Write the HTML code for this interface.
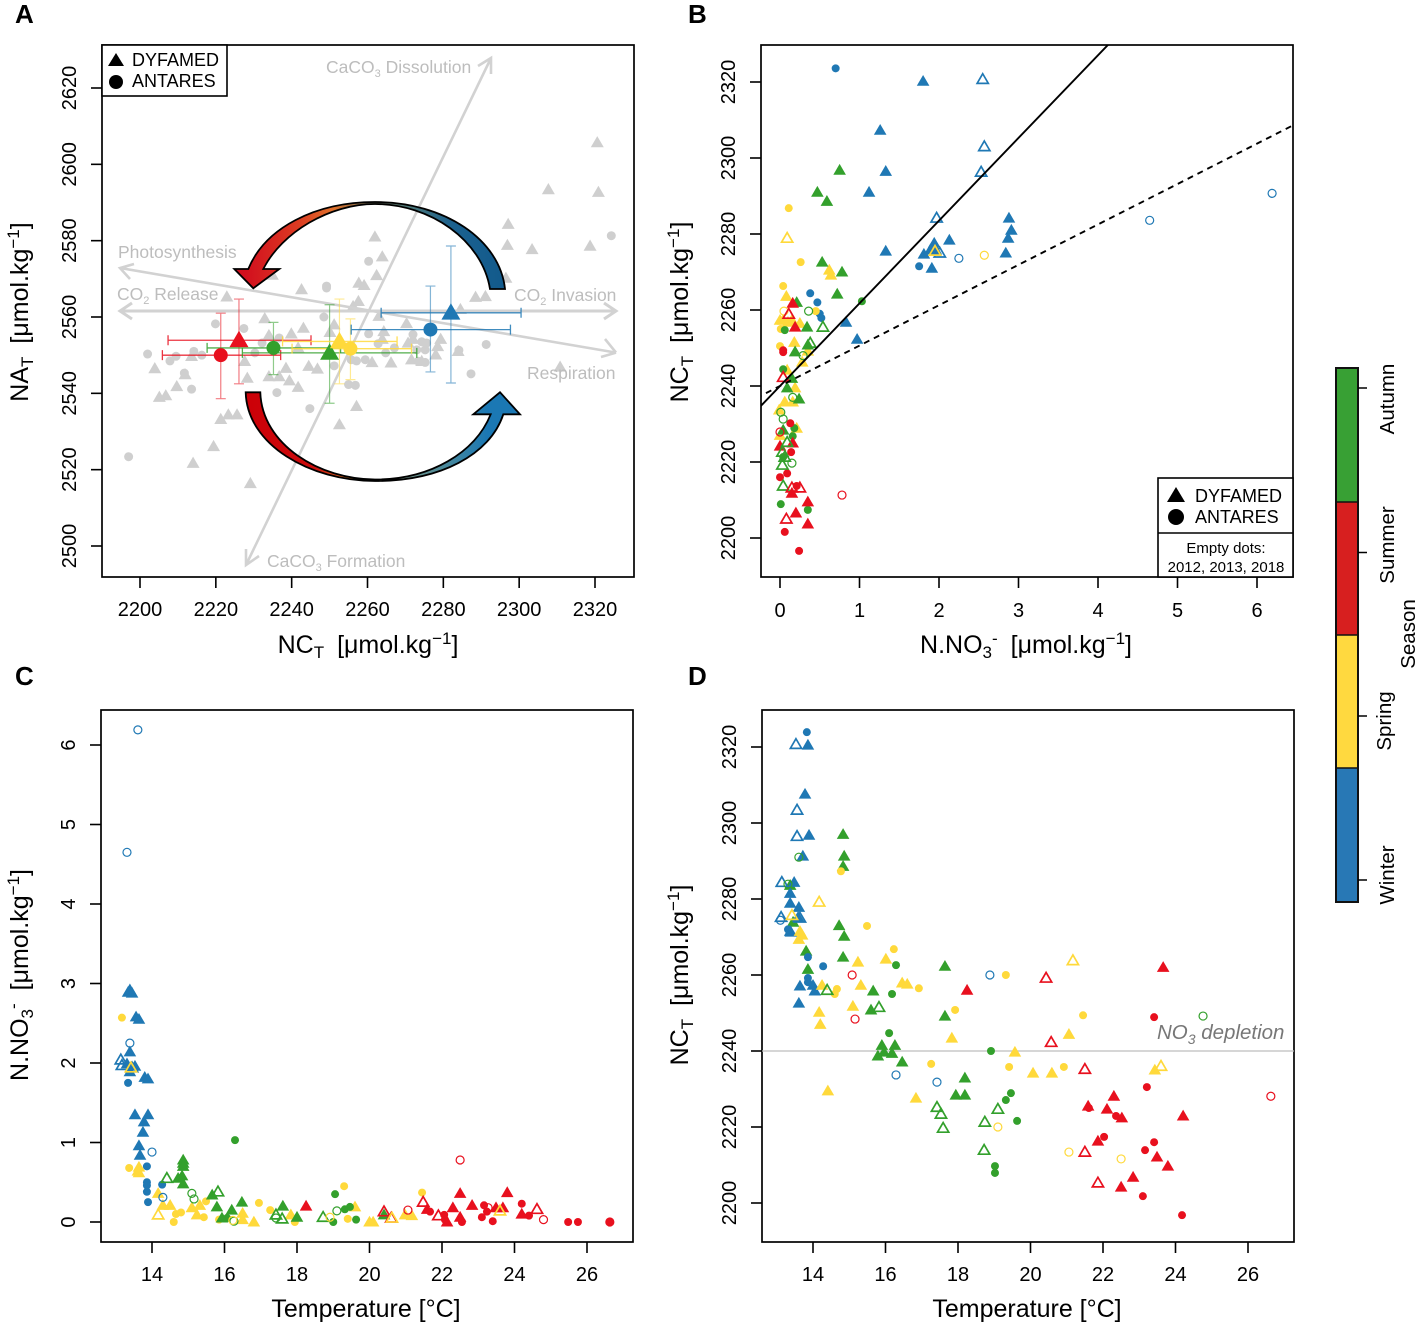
<!DOCTYPE html>
<html lang="en">
<head>
<meta charset="utf-8">
<title>Seasonal carbonate chemistry panels</title>
<style>
html,body{margin:0;padding:0;background:#fff;}
svg{display:block;font-family:"Liberation Sans",Arial,sans-serif;}
</style>
</head>
<body>
<svg id="fig" xmlns="http://www.w3.org/2000/svg" width="1417" height="1324" viewBox="0 0 1417 1324">
<defs>
<clipPath id="clipA"><rect x="102" y="45" width="532" height="532"/></clipPath>
<clipPath id="clipB"><rect x="761" y="45" width="532" height="532"/></clipPath>
<clipPath id="clipC"><rect x="101" y="710" width="532" height="532"/></clipPath>
<clipPath id="clipD"><rect x="762" y="710" width="532" height="532"/></clipPath>
<linearGradient id="gradUpper" gradientUnits="userSpaceOnUse" x1="245" y1="0" x2="505" y2="0">
<stop offset="0" stop-color="#d20f1e"/><stop offset="0.2" stop-color="#dc3a22"/><stop offset="0.34" stop-color="#e0702a"/><stop offset="0.48" stop-color="#6a6a50"/><stop offset="0.62" stop-color="#4f7a78"/><stop offset="0.8" stop-color="#1b618f"/><stop offset="1" stop-color="#125a8c"/>
</linearGradient>
<linearGradient id="gradLower" gradientUnits="userSpaceOnUse" x1="245" y1="0" x2="520" y2="0">
<stop offset="0" stop-color="#cc0008"/><stop offset="0.25" stop-color="#cc0c0c"/><stop offset="0.38" stop-color="#d9701f"/><stop offset="0.55" stop-color="#7d9a88"/><stop offset="0.72" stop-color="#4c8a9a"/><stop offset="0.88" stop-color="#1b78b4"/><stop offset="1" stop-color="#1b78b4"/>
</linearGradient>
</defs>
<rect x="0" y="0" width="1417" height="1324" fill="#fff"/>

<g id="layerA"></g>
<g id="layerB"></g>
<g id="layerC"></g>
<g id="layerD"></g>

<g font-size="26" font-weight="bold" fill="#000">
<text x="15" y="23">A</text>
<text x="688" y="23">B</text>
<text x="15" y="685">C</text>
<text x="688" y="685">D</text>
</g>

<!-- axis titles -->
<g font-size="25" fill="#000" text-anchor="middle">
<text x="368" y="653">NC<tspan font-size="17" dy="5">T</tspan><tspan dy="-5" dx="13">[μmol.kg</tspan><tspan font-size="17" dy="-9">−1</tspan><tspan dy="9">]</tspan></text>
<text transform="translate(28,312) rotate(-90)">NA<tspan font-size="17" dy="5">T</tspan><tspan dy="-5" dx="13">[μmol.kg</tspan><tspan font-size="17" dy="-9">−1</tspan><tspan dy="9">]</tspan></text>
<text x="1026" y="653">N.NO<tspan font-size="17" dy="5">3</tspan><tspan font-size="17" dy="-14">-</tspan><tspan dy="9" dx="13">[μmol.kg</tspan><tspan font-size="17" dy="-9">−1</tspan><tspan dy="9">]</tspan></text>
<text transform="translate(688,312) rotate(-90)">NC<tspan font-size="17" dy="5">T</tspan><tspan dy="-5" dx="13">[μmol.kg</tspan><tspan font-size="17" dy="-9">−1</tspan><tspan dy="9">]</tspan></text>
<text x="366" y="1317">Temperature [°C]</text>
<text transform="translate(28,975) rotate(-90)">N.NO<tspan font-size="17" dy="5">3</tspan><tspan font-size="17" dy="-14">-</tspan><tspan dy="9" dx="13">[μmol.kg</tspan><tspan font-size="17" dy="-9">−1</tspan><tspan dy="9">]</tspan></text>
<text x="1027" y="1317">Temperature [°C]</text>
<text transform="translate(688,975) rotate(-90)">NC<tspan font-size="17" dy="5">T</tspan><tspan dy="-5" dx="13">[μmol.kg</tspan><tspan font-size="17" dy="-9">−1</tspan><tspan dy="9">]</tspan></text>
</g>

<!-- Panel A process annotations -->
<g fill="none" stroke="#d2d2d2" stroke-width="3">
<path d="M120,311 L616,311 M132,303 L120,311 L132,319 M604,303 L616,311 L604,319"/>
<path d="M120,268 L616,352.6 M134,264 L120,268 L130,279 M605,339 L616,352.6 M616,352.6 L601,357" stroke-width="2.6"/>
<path d="M246,565 L491,58 M246,549 L246,565 L259,556 M478,66 L491,58 L491,74" stroke-width="2.6"/>
</g>
<g fill="#bdbdbd" font-size="17.5">
<text x="118" y="258">Photosynthesis</text>
<text x="326" y="73">CaCO<tspan font-size="11" dy="4">3</tspan><tspan dy="-4"> Dissolution</tspan></text>
<text x="117" y="300">CO<tspan font-size="11" dy="4">2</tspan><tspan dy="-4"> Release</tspan></text>
<text x="514" y="301">CO<tspan font-size="11" dy="4">2</tspan><tspan dy="-4"> Invasion</tspan></text>
<text x="527" y="379">Respiration</text>
<text x="267" y="567">CaCO<tspan font-size="11" dy="4">3</tspan><tspan dy="-4"> Formation</tspan></text>
</g>
<g id="layerAData"></g>

<path d="M505,289 C500,240 445,202 375,202 C315,202 265,228 248.3,269 L234.3,269 L253.3,288.3 L279.3,269 L263.3,269 C282,232 330,204 375,204 C430,204 482,240 490,289 Z" fill="url(#gradUpper)" stroke="#000" stroke-width="1.8" stroke-linejoin="miter"/>
<path d="M245.7,392.3 C247,445 310,481 375,481 C440,481 490,455 503.3,414.3 L520,414.3 L500,392.3 L473.3,414.3 L490.7,414.3 C475,453 430,479.5 375,479.5 C320,479.5 262,445 260.3,392.3 Z" fill="url(#gradLower)" stroke="#000" stroke-width="1.8" stroke-linejoin="miter"/>

<!-- Legend A -->
<g>
<rect x="102" y="45" width="125" height="51" fill="#fff" stroke="#000" stroke-width="1.6"/>
<path d="M116,53 L124,66 L108,66 Z" fill="#000"/>
<circle cx="116" cy="82" r="7" fill="#000"/>
<text x="132" y="66" font-size="18">DYFAMED</text>
<text x="132" y="87" font-size="18">ANTARES</text>
</g>

<!-- Legend B -->
<g>
<rect x="1158" y="478" width="135" height="99" fill="#fff" stroke="#000" stroke-width="1.6"/>
<line x1="1158" y1="533" x2="1293" y2="533" stroke="#000" stroke-width="1.6"/>
<path d="M1176,487 L1185,502 L1167,502 Z" fill="#000"/>
<circle cx="1176" cy="517" r="8" fill="#000"/>
<text x="1195" y="502" font-size="18">DYFAMED</text>
<text x="1195" y="523" font-size="18">ANTARES</text>
<text x="1226" y="553" font-size="15" text-anchor="middle">Empty dots:</text>
<text x="1226" y="572" font-size="15" text-anchor="middle">2012, 2013, 2018</text>
</g>

<!-- NO3 depletion -->
<text x="1157" y="1039" font-size="20.5" font-style="italic" fill="#777">NO<tspan font-size="14" dy="5">3</tspan><tspan dy="-5"> depletion</tspan></text>

<!-- Season colour bar -->
<g id="colorbar">
<rect x="1336" y="768" width="22" height="134" fill="#2878b5"/>
<rect x="1336" y="635" width="22" height="133" fill="#ffd93f"/>
<rect x="1336" y="502" width="22" height="133" fill="#d71f1f"/>
<rect x="1336" y="368" width="22" height="134" fill="#38a034"/>
<path d="M1336,502 H1358 M1336,635 H1358 M1336,768 H1358" stroke="#111" stroke-width="1.5" fill="none"/>
<rect x="1336" y="368" width="22" height="534" fill="none" stroke="#111" stroke-width="2"/>
<path d="M1358,388 H1367 M1358,552.5 H1367 M1358,716 H1367 M1358,880 H1367" stroke="#000" stroke-width="1.4" fill="none"/>
<g font-size="20.5" text-anchor="middle">
<text transform="translate(1394,399) rotate(-90)">Autumn</text>
<text transform="translate(1394,545) rotate(-90)">Summer</text>
<text transform="translate(1391,721) rotate(-90)">Spring</text>
<text transform="translate(1394,875) rotate(-90)">Winter</text>
<text transform="translate(1415,634) rotate(-90)">Season</text>
</g>
</g>
</svg>

<script>
// ---------- Tick labels ----------
const aXTicks = [2200, 2220, 2240, 2260, 2280, 2300, 2320];
const aYTicks = [2500, 2520, 2540, 2560, 2580, 2600, 2620];
const bXTicks = [0, 1, 2, 3, 4, 5, 6];
const bYTicks = [2200, 2220, 2240, 2260, 2280, 2300, 2320];
const cXTicks = [14, 16, 18, 20, 22, 24, 26];
const cYTicks = [0, 1, 2, 3, 4, 5, 6];
const dXTicks = [14, 16, 18, 20, 22, 24, 26];
const dYTicks = [2200, 2220, 2240, 2260, 2280, 2300, 2320];

const winterColor = '#1f78b4', springColor = '#ffd93b', summerColor = '#e8101e', autumnColor = '#33a02c';

// ---------- Panel A: background samples [NCT, NAT] ----------
const aGreyTriangles = [[2320.6,2605.7],[2307.7,2593.4],[2320.9,2592.7],[2297.1,2584.3],[2296.9,2578.8],[2303.4,2577.7],[2318.7,2578.6],[2261.95,2581],[2263.9,2575.8],[2296.5,2570.2],[2262.4,2570.9],[2257.7,2568.9],[2259.1,2568.3],[2234.9,2571],[2242.6,2567.2],[2288.5,2565.2],[2291.1,2565.4],[2222.9,2565.3],[2257.6,2564.1],[2256.2,2562.8],[2284.5,2562],[2263,2560.2],[2270.3,2558.3],[2232.9,2559.6],[2243.1,2557.1],[2264.3,2556.2],[2251.2,2558],[2239.9,2555.6],[2234,2555.2],[2250.1,2556],[2272,2554.2],[2279.3,2554.2],[2263.9,2554.2],[2270.7,2553.2],[2278.5,2552.3],[2283.9,2551],[2278,2550.1],[2213.6,2549.7],[2241.7,2551.9],[2271.6,2548.8],[2261.2,2548.1],[2266.2,2548],[2227.6,2548.4],[2238.5,2546.6],[2244.5,2547.1],[2246.8,2546.4],[2234,2544.4],[2236.7,2544.4],[2228.3,2544],[2239.4,2543.3],[2241.7,2541.6],[2211.9,2544.9],[2203.9,2546.5],[2209.7,2541.8],[2206.8,2539.4],[2205.1,2539],[2310.8,2546.9],[2257.1,2536.6],[2252.6,2531.8],[2225.6,2534.4],[2223.3,2534.4],[2221.3,2533.2],[2219.4,2526.1],[2214,2521.7],[2229.1,2516.4],[2274.3,2548.4]];
const aGreyCircles = [[2324.3,2581.3],[2260.3,2574.6],[2249.2,2568.1],[2249.2,2567.6],[2248.5,2560],[2219.9,2558.2],[2227.4,2557],[2236.7,2554.5],[2202,2550.3],[2207.9,2548.5],[2209.5,2549.7],[2214.2,2551],[2216.3,2550],[2211.7,2545.3],[2213.6,2541.1],[2236.1,2540.2],[2244.8,2536],[2197,2523.4],[2255,2542.3],[2256.8,2542.1],[2260.3,2555.6],[2262.8,2553],[2264.8,2550.6],[2267.1,2551.9],[2259.4,2548.8],[2257.1,2548.5],[2255.7,2548.8],[2251.2,2547.2],[2272,2555.4],[2274.3,2553.5],[2275.6,2553.2],[2275.2,2551.4],[2273,2551.4],[2273.4,2548.4],[2275.2,2548.1],[2284.1,2551.3],[2291.3,2552.8],[2287.3,2545.1],[2230.3,2550.6],[2232.2,2553.2]];

// Panel A: seasonal means and error bars
const aMeanSeason = ['summer','summer','autumn','autumn','spring','spring','winter','winter'];
const aMeanMarker = ['tri','circ','circ','tri','tri','circ','circ','tri'];
const aMeanX =     [2226.1,2221.3,2235.2,2250,2252.6,2255.5,2276.6,2282];
const aMeanY =     [2553.9,2550,2551.9,2550.6,2553.6,2551.7,2556.7,2561.1];
const aMeanXLow =  [2207.4,2205.9,2217.7,2227,2237.6,2240.1,2255.7,2263.6];
const aMeanXHigh = [2245.1,2237.1,2252.9,2273,2267.8,2271.6,2297.7,2300.5];
const aMeanYLow =  [2542.5,2538.6,2544.9,2537.4,2542.5,2543.6,2545.6,2542.7];
const aMeanYHigh = [2564.7,2561,2558.6,2563.2,2564.7,2559.5,2568.1,2578.6];

// ---------- Panel B: [N.NO3, NCT] ----------
const bWinterTri = [[1.8,2320.2],[1.26,2307.3],[1.33,2296.5],[1.12,2291],[1.33,2275.5],[1.94,2277.6],[2.13,2278.4],[1.81,2274.7],[1.91,2271],[2.88,2284.2],[2.91,2281],[2.87,2278.9],[2.84,2275],[0.83,2256.8],[0.97,2252.3],[1.89,2275.8],[1.96,2275.8]];
const bWinterOpenTri = [[2.55,2320.7],[2.57,2303],[2.53,2296.3],[1.97,2284.2],[2.01,2275]];
const bWinterCirc = [[0.7,2323.6],[1.75,2271.5],[0.38,2264.4],[0.47,2262],[0.5,2259],[0.52,2257.9]];
const bWinterOpenCirc = [[2.25,2273.6],[4.65,2283.6],[6.19,2290.7]];
const bSpringTri = [[0.08,2263.6],[0,2257.3],[0.15,2257.3],[0.25,2256.5],[0.18,2251.5],[0.35,2249.2],[0.28,2246.3],[0.09,2244.2],[0.19,2239.5],[0.06,2235.8],[0.16,2235.8],[-0.01,2233.7],[0.21,2228.9],[0,2227],[0.62,2270.5],[0.64,2269.2],[0.04,2257.3],[0.1,2256.8]];
const bSpringOpenTri = [[1.95,2275.5],[0.09,2278.9]];
const bSpringCirc = [[0.11,2286.8],[0.26,2272.6],[0.04,2266.3],[0.45,2259.7],[0.01,2255],[0,2250.5]];
const bSpringOpenCirc = [[2.57,2274.4],[0.05,2259.7]];
const bAutumnTri = [[0.47,2291],[0.59,2288.6],[0.75,2296.8],[0.53,2272.6],[0.78,2270],[0.72,2264.2],[0.21,2262],[0.34,2255.5],[0.19,2249],[0.35,2250.8],[0.15,2242],[0.09,2239.5],[0.24,2236.6],[0.04,2228.4]];
const bAutumnOpenTri = [[0.54,2255.5],[0.38,2251.3],[0.09,2225.2],[0.03,2222.6],[0.06,2221.3],[0.03,2219.2],[0.04,2213.7]];
const bAutumnCirc = [[1.03,2262.3],[0.06,2254.7],[0.04,2244.4],[0.18,2228.9],[0.16,2226.8],[0.04,2221.3],[0.35,2207.4],[0.01,2208.9]];
const bAutumnOpenCirc = [[0.36,2259.7],[0.29,2248],[0.16,2237],[0.01,2233.1],[0.04,2231.3],[0.15,2219.7]];
const bSummerTri = [[0.16,2261.8],[0.19,2255.5],[0,2224.2],[0.16,2225],[0.15,2211.8],[0.35,2209.5],[0.2,2206.6],[0.35,2203.7]];
const bSummerOpenTri = [[0.11,2258.9],[0.04,2242.3],[0.25,2213.2],[0.15,2213.2],[0.08,2205]];
const bSummerCirc = [[0.04,2248.9],[0.13,2230.2],[0.14,2222.6],[0.09,2217],[0,2216],[0.21,2213.7],[0.06,2201.6],[0.24,2196.6],[0.04,2249.4]];
const bSummerOpenCirc = [[0.78,2211.3],[0,2227.9]];
const bLineIntercept = [2240, 2240];
const bLineSlope = [21.76, 10.63];
const bLineDash = ['', '6 5'];

// ---------- Panel C: [Temperature, N.NO3] ----------
const cWinterTri = [[13.34,2.89],[13.45,2.88],[13.39,2.92],[13.56,2.58],[13.64,2.55],[13.39,2.14],[13.31,1.99],[13.53,1.96],[13.39,1.89],[13.8,1.82],[13.89,1.8],[13.53,1.35],[13.89,1.35],[13.78,1.26],[13.75,1.13],[13.64,0.96],[13.67,0.84]];
const cWinterOpenTri = [[13.14,2.04],[13.17,1.97],[13.45,1.94]];
const cWinterCirc = [[13.34,1.75],[13.86,0.7],[13.86,0.5],[13.86,0.46],[13.86,0.38],[13.89,0.25],[14.28,0.47]];
const cWinterOpenCirc = [[13.61,6.19],[13.31,4.65],[13.39,2.25],[14,0.88],[14.3,0.31]];
const cSpringTri = [[13.64,0.69],[13.61,0.64],[13.64,0.62],[14.17,0.36],[14.3,0.21],[14.5,0.21],[15.1,0.18],[15.32,0.21],[15.24,0.09],[16.5,0.11],[16.5,0.03],[16.81,0],[17.83,0.09],[19.6,0.19],[20,0],[20.1,0],[20.98,0.09],[21.17,0.08]];
const cSpringOpenTri = [[14.17,0.09],[13.42,1.94],[20.62,0.05],[23.6,0.14]];
const cSpringCirc = [[13.17,2.57],[13.37,0.68],[15.49,0.26],[16.95,0.24],[17.26,0.15],[19.3,0.45],[19.4,0.04],[14.6,0],[14.66,0.1],[14.8,0.12],[15.43,0.06],[15.85,0.03],[17.94,0],[21.45,0.37]];
const cSpringOpenCirc = [[18.91,0.06],[16.23,0.02]];
const cAutumnTri = [[14.86,0.78],[14.86,0.74],[14.86,0.7],[14.72,0.55],[14.83,0.58],[14.86,0.48],[15.66,0.34],[15.79,0.19],[16.48,0.25],[16.2,0.15],[15.93,0.05],[17.61,0.2],[18,0.06],[20.4,0.09]];
const cAutumnOpenTri = [[14.41,0.55],[15.82,0.38],[17.42,0.09],[17.59,0.04],[18.72,0.06]];
const cAutumnCirc = [[16.29,1.03],[19.05,0.35],[19.46,0.19],[19.32,0.16],[19.63,0.03],[19,0],[16.07,0.05]];
const cAutumnOpenCirc = [[15.1,0.36],[15.16,0.29],[16.26,0.01],[17.42,0.05],[19.1,0.14]];
const cSummerTri = [[18.25,0.2],[21.59,0.16],[22.3,0.18],[22.5,0.36],[22.14,0],[22.83,0.21],[22.5,0.06],[23.49,0.18],[23.68,0.18],[23.8,0.37],[24.2,0.1]];
const cSummerOpenTri = [[20.4,0.13],[20.6,0.05],[21.48,0.25],[21.9,0.08],[24.62,0.16]];
const cSummerCirc = [[21.67,0.13],[22.06,0.09],[22.08,0.03],[22.55,0],[23.16,0.21],[23.24,0.13],[23.1,0.06],[23.4,0.01],[24.2,0.23],[24.4,0.08],[25.48,0],[25.75,0],[26.63,0]];
const cSummerOpenCirc = [[22.5,0.78],[21.06,0.15],[23.27,0.18],[24.8,0.03],[26.63,0]];

// ---------- Panel D: [Temperature, NCT] ----------
const dWinterTri = [[13.86,2320.5],[13.78,2307.6],[13.89,2296.8],[13.72,2291.3],[13.48,2284.4],[13.37,2281.5],[13.37,2278.9],[13.61,2277.8],[13.59,2275.2],[13.37,2271.5],[13.64,2257.1],[14,2257.3],[14.05,2255.8],[13.61,2252.6],[13.39,2271.3]];
const dWinterOpenTri = [[13.53,2320.7],[13.56,2303.4],[13.56,2296.5],[13.14,2284.4],[13.12,2275.2],[13.64,2275]];
const dWinterCirc = [[13.83,2323.9],[13.31,2272],[13.86,2264.7],[14.28,2262.3],[13.86,2259.2],[13.86,2258.1]];
const dWinterOpenCirc = [[18.88,2260],[13.1,2274.4],[16.29,2233.7],[17.42,2231.8]];
const dSpringTri = [[13.64,2271.5],[13.7,2270.5],[13.61,2269.4],[15.24,2263.4],[16.01,2264.2],[14.25,2257.3],[15.32,2257.3],[16.46,2257.9],[16.6,2257.6],[15.1,2251.8],[14.17,2250.2],[14.2,2247],[14.41,2229.5],[17.83,2243.4],[16.84,2227.6],[19.57,2239.7],[20.07,2234.2],[20.59,2234.2],[21.06,2244.4],[23.43,2235]];
const dSpringOpenTri = [[14.17,2279.2],[13.42,2275.7],[23.6,2236],[21.17,2263.8]];
const dSpringCirc = [[14.77,2287.3],[15.49,2272.9],[16.23,2266.8],[19.32,2260],[14.66,2256.3],[14.6,2255],[16.92,2256.5],[17.92,2250.8],[17.26,2236.6],[21.45,2249.4],[19.41,2235.8],[20.92,2235.8]];
const dSpringOpenCirc = [[21.06,2213.4],[22.5,2211.6],[19.1,2220]];
const dAutumnTri = [[14.83,2297],[14.86,2291.3],[14.83,2288.6],[13.37,2283.6],[13.45,2273.9],[14.72,2273],[14.86,2270.2],[13.81,2266.3],[14.83,2264.7],[13.86,2261.5],[17.64,2262.3],[15.66,2255.8],[15.6,2250.8],[17.64,2249.2],[15.9,2241.5],[16.26,2241.5],[15.79,2238.7],[15.96,2239.7],[16.18,2239.4],[16.46,2237.1],[18.19,2232.9],[17.94,2228.4],[18.19,2228.4]];
const dAutumnOpenTri = [[14.39,2256],[15.82,2251.5],[17.42,2225.2],[17.53,2223.4],[17.59,2219.7],[18.74,2221.3],[19.1,2224.7],[18.72,2213.9]];
const dAutumnCirc = [[16.29,2262.6],[16.18,2255],[18.91,2240],[16.1,2244.7],[19.46,2228.9],[19.32,2227.1],[19.63,2221.6],[19.02,2209.7],[19.02,2207.9]];
const dAutumnOpenCirc = [[13.61,2291],[13.31,2283.9],[24.76,2249.2]];
const dSummerTri = [[18.25,2256],[23.66,2262],[22.3,2228.1],[21.59,2225.5],[22.11,2224.7],[22.52,2222.4],[24.21,2222.9],[21.86,2216.3],[23.49,2212.1],[23.79,2209.7],[22.83,2206.8],[22.5,2204.2]];
const dSummerOpenTri = [[20.43,2259.2],[20.57,2242.3],[21.5,2235.2],[21.5,2213.4],[21.86,2205.3]];
const dSummerCirc = [[23.41,2248.9],[23.21,2230.5],[21.61,2225],[22.36,2222.9],[22.03,2217.4],[23.41,2216],[23.16,2213.9],[23.1,2201.8],[24.18,2196.8]];
const dSummerOpenCirc = [[15.08,2260],[15.16,2248.4],[26.63,2228.1]];
const dReferenceLevel = [2240];

// ---------- Helpers ----------
const NS = 'http://www.w3.org/2000/svg';
function scale(d0, d1, r0, r1) {
  return function (v) { return r0 + (v - d0) * (r1 - r0) / (d1 - d0); };
}
function make(tag, parent) {
  const el = document.createElementNS(NS, tag);
  parent.appendChild(el);
  return el;
}
function drawAxes(parent, box, xs, ys, xTicks, yTicks, xLabelY, yLabelX) {
  const frame = make('rect', parent);
  
  
  frame.setAttribute('x', box.x);
  frame.setAttribute('y', box.y);
  frame.setAttribute('width', box.w);
  frame.setAttribute('height', box.h);
  frame.setAttribute('fill', 'none');
  frame.setAttribute('stroke', '#000');
  frame.setAttribute('stroke-width', '1.7');
  const bottom = box.y + box.h;
  xTicks.forEach(function (t) {
    const tick = make('line', parent);
    
    
    tick.setAttribute('x1', xs(t));
    tick.setAttribute('x2', xs(t));
    tick.setAttribute('y1', bottom);
    tick.setAttribute('y2', bottom + 11);
    tick.setAttribute('stroke', '#000');
    tick.setAttribute('stroke-width', '1.6');
    const label = make('text', parent);
    
    
    label.setAttribute('x', xs(t));
    label.setAttribute('y', xLabelY);
    label.setAttribute('font-size', '20');
    label.setAttribute('text-anchor', 'middle');
    label.textContent = t;
  });
  yTicks.forEach(function (t) {
    const tick = make('line', parent);
    
    
    tick.setAttribute('x1', box.x);
    tick.setAttribute('x2', box.x - 11);
    tick.setAttribute('y1', ys(t));
    tick.setAttribute('y2', ys(t));
    tick.setAttribute('stroke', '#000');
    tick.setAttribute('stroke-width', '1.6');
    const label = make('text', parent);
    
    
    label.setAttribute('transform', 'translate(' + yLabelX + ',' + ys(t) + ') rotate(-90)');
    label.setAttribute('font-size', '20');
    label.setAttribute('text-anchor', 'middle');
    label.textContent = t;
  });
}
function triPoints(x, y, h) {
  return (x) + ',' + (y - h) + ' ' + (x + h) + ',' + (y + h * 0.72) + ' ' + (x - h) + ',' + (y + h * 0.72);
}
function drawSeries(parent, values, xs, ys, color, marker, size) {
  values.forEach(function (p) {
    const x = xs(p[0]), y = ys(p[1]);
    if (marker === 'tri' || marker === 'openTri') {
      const m = make('polygon', parent);
      
      
      const h = marker === 'tri' ? size + 0.5 : size - 0.2;
      m.setAttribute('points', triPoints(x, y, h));
      m.setAttribute('fill', marker === 'tri' ? color : 'none');
      if (marker === 'openTri') {
        m.setAttribute('stroke', color);
        m.setAttribute('stroke-width', '1.7');
      }
    } else {
      const m = make('circle', parent);
      
      
      m.setAttribute('cx', x);
      m.setAttribute('cy', y);
      m.setAttribute('r', marker === 'circ' ? size - 1.8 : size - 1.8);
      m.setAttribute('fill', marker === 'circ' ? color : 'none');
      if (marker === 'openCirc') {
        m.setAttribute('stroke', color);
        m.setAttribute('stroke-width', '1.2');
      }
    }
  });
}
function drawAll(parent, xs, ys, list) {
  list.forEach(function (s) { drawSeries(parent, s[0], xs, ys, s[1], s[2], 5.8); });
}

// ---------- Panel A ----------
const layerA = document.getElementById('layerA');
const layerAData = document.getElementById('layerAData');
const xA = scale(2200, 2320, 140, 595);
const yA = scale(2500, 2620, 546, 88);
drawAxes(layerA, {x:102, y:45, w:532, h:532}, xA, yA, aXTicks, aYTicks, 616, 76);
const aGrey = make('g', layerA);


aGrey.setAttribute('clip-path', 'url(#clipA)');
drawSeries(aGrey, aGreyTriangles, xA, yA, '#cfcfcf', 'tri', 6);
drawSeries(aGrey, aGreyCircles, xA, yA, '#cfcfcf', 'circ', 6.3);
const seasonColors = {winter: winterColor, spring: springColor, summer: summerColor, autumn: autumnColor};
aMeanX.forEach(function (mx, i) {
  const color = seasonColors[aMeanSeason[i]];
  const v = make('path', layerAData);
  
  
  const cx = xA(mx), top = yA(aMeanYHigh[i]), bot = yA(aMeanYLow[i]);
  v.setAttribute('d', 'M' + cx + ',' + top + ' V' + bot + ' M' + (cx - 5) + ',' + top + ' H' + (cx + 5) + ' M' + (cx - 5) + ',' + bot + ' H' + (cx + 5));
  v.setAttribute('stroke', color);
  v.setAttribute('stroke-width', '1.2');
  v.setAttribute('stroke-opacity', '0.55');
  v.setAttribute('fill', 'none');
  const h = make('path', layerAData);
  
  
  const cy = yA(aMeanY[i]), l = xA(aMeanXLow[i]), r = xA(aMeanXHigh[i]);
  h.setAttribute('d', 'M' + l + ',' + cy + ' H' + r + ' M' + l + ',' + (cy - 5) + ' V' + (cy + 5) + ' M' + r + ',' + (cy - 5) + ' V' + (cy + 5));
  h.setAttribute('stroke', color);
  h.setAttribute('stroke-width', '1.3');
  h.setAttribute('stroke-opacity', '0.85');
  h.setAttribute('fill', 'none');
});
aMeanX.forEach(function (mx, i) {
  const color = seasonColors[aMeanSeason[i]];
  if (aMeanMarker[i] === 'tri') {
    const m = make('polygon', layerAData);
    
    
    m.setAttribute('points', triPoints(xA(mx), yA(aMeanY[i]), 9.5));
    m.setAttribute('fill', color);
  } else {
    const m = make('circle', layerAData);
    
    
    m.setAttribute('cx', xA(mx));
    m.setAttribute('cy', yA(aMeanY[i]));
    m.setAttribute('r', '7');
    m.setAttribute('fill', color);
  }
});

// ---------- Panel B ----------
const layerB = document.getElementById('layerB');
const xB = scale(0, 6, 780, 1257);
const yB = scale(2200, 2320, 538, 82);
drawAxes(layerB, {x:761, y:45, w:532, h:532}, xB, yB, bXTicks, bYTicks, 617, 735);
const bPlot = make('g', layerB);


bPlot.setAttribute('clip-path', 'url(#clipB)');
drawAll(bPlot, xB, yB, [
  [bWinterTri, winterColor, 'tri'], [bWinterCirc, winterColor, 'circ'],
  [bSpringTri, springColor, 'tri'], [bSpringCirc, springColor, 'circ'],
  [bAutumnTri, autumnColor, 'tri'], [bAutumnCirc, autumnColor, 'circ'],
  [bSummerTri, summerColor, 'tri'], [bSummerCirc, summerColor, 'circ'],
  [bWinterOpenTri, winterColor, 'openTri'], [bWinterOpenCirc, winterColor, 'openCirc'],
  [bAutumnOpenTri, autumnColor, 'openTri'], [bAutumnOpenCirc, autumnColor, 'openCirc'],
  [bSpringOpenTri, springColor, 'openTri'], [bSpringOpenCirc, springColor, 'openCirc'],
  [bSummerOpenTri, summerColor, 'openTri'], [bSummerOpenCirc, summerColor, 'openCirc']
]);
bLineIntercept.forEach(function (b, i) {
  const line = make('line', bPlot);
  
  
  const xa = -0.3, xb = 6.5;
  line.setAttribute('x1', xB(xa));
  line.setAttribute('y1', yB(b + bLineSlope[i] * xa));
  line.setAttribute('x2', xB(xb));
  line.setAttribute('y2', yB(b + bLineSlope[i] * xb));
  line.setAttribute('stroke', '#000');
  line.setAttribute('stroke-width', '1.9');
  if (bLineDash[i]) line.setAttribute('stroke-dasharray', bLineDash[i]);
});

// ---------- Panel C ----------
const layerC = document.getElementById('layerC');
const xC = scale(14, 26, 152, 587);
const yC = scale(0, 6, 1222, 745);
drawAxes(layerC, {x:101, y:710, w:532, h:532}, xC, yC, cXTicks, cYTicks, 1281, 75);
const cPlot = make('g', layerC);


cPlot.setAttribute('clip-path', 'url(#clipC)');
drawAll(cPlot, xC, yC, [
  [cWinterTri, winterColor, 'tri'], [cWinterCirc, winterColor, 'circ'],
  [cSpringTri, springColor, 'tri'], [cSpringCirc, springColor, 'circ'],
  [cAutumnTri, autumnColor, 'tri'], [cAutumnCirc, autumnColor, 'circ'],
  [cSummerTri, summerColor, 'tri'], [cSummerCirc, summerColor, 'circ'],
  [cWinterOpenTri, winterColor, 'openTri'], [cWinterOpenCirc, winterColor, 'openCirc'],
  [cAutumnOpenTri, autumnColor, 'openTri'], [cAutumnOpenCirc, autumnColor, 'openCirc'],
  [cSummerOpenTri, summerColor, 'openTri'], [cSummerOpenCirc, summerColor, 'openCirc'],
  [cSpringOpenTri, springColor, 'openTri'], [cSpringOpenCirc, springColor, 'openCirc']
]);

// ---------- Panel D ----------
const layerD = document.getElementById('layerD');
const xD = scale(14, 26, 813, 1248);
const yD = scale(2200, 2320, 1203, 747);
drawAxes(layerD, {x:762, y:710, w:532, h:532}, xD, yD, dXTicks, dYTicks, 1281, 736);
const dPlot = make('g', layerD);


dPlot.setAttribute('clip-path', 'url(#clipD)');
dReferenceLevel.forEach(function (level) {
  const ref = make('line', dPlot);
  
  
  ref.setAttribute('x1', 762);
  ref.setAttribute('x2', 1294);
  ref.setAttribute('y1', yD(level));
  ref.setAttribute('y2', yD(level));
  ref.setAttribute('stroke', '#bdbdbd');
  ref.setAttribute('stroke-width', '1.2');
});
drawAll(dPlot, xD, yD, [
  [dAutumnTri, autumnColor, 'tri'], [dAutumnCirc, autumnColor, 'circ'],
  [dWinterTri, winterColor, 'tri'], [dWinterCirc, winterColor, 'circ'],
  [dSpringTri, springColor, 'tri'], [dSpringCirc, springColor, 'circ'],
  [dSummerTri, summerColor, 'tri'], [dSummerCirc, summerColor, 'circ'],
  [dWinterOpenTri, winterColor, 'openTri'], [dWinterOpenCirc, winterColor, 'openCirc'],
  [dAutumnOpenTri, autumnColor, 'openTri'], [dAutumnOpenCirc, autumnColor, 'openCirc'],
  [dSpringOpenTri, springColor, 'openTri'], [dSpringOpenCirc, springColor, 'openCirc'],
  [dSummerOpenTri, summerColor, 'openTri'], [dSummerOpenCirc, summerColor, 'openCirc']
]);
</script>
</body>
</html>
